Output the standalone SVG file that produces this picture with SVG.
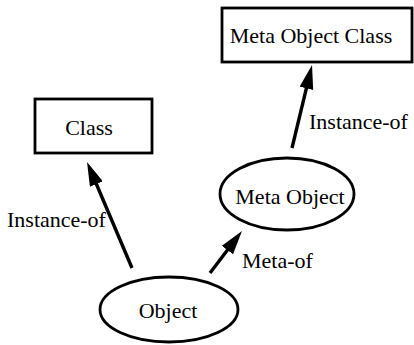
<svg xmlns="http://www.w3.org/2000/svg" width="414" height="345" viewBox="0 0 414 345">
<style>
.box{fill:#fff;stroke:#000;stroke-width:2.8}
.lbl{font-family:'Liberation Serif','Times New Roman',serif;font-size:22px;fill:#000}
.c{text-anchor:middle}
.edge{fill:none;stroke:#000;stroke-width:3.4}
</style>
<defs>
<marker id="ah" viewBox="0 0 24 14" refX="12" refY="7" markerWidth="24" markerHeight="14" orient="auto" markerUnits="userSpaceOnUse">
<path d="M0,0 L24,7 L0,14 Z" fill="#000"/>
</marker>
</defs>
<rect width="414" height="345" fill="#fff"/>
<g id="class">
<rect class="box" x="35" y="99" width="117" height="54"/>
<text class="lbl c" x="89" y="135">Class</text>
</g>
<g id="meta-object-class">
<rect class="box" x="222" y="8" width="190" height="54"/>
<text class="lbl c" x="311" y="43">Meta Object Class</text>
</g>
<g id="meta-object">
<ellipse class="box" cx="287" cy="194" rx="67" ry="36"/>
<text class="lbl c" x="290" y="204">Meta Object</text>
</g>
<g id="object">
<ellipse class="box" cx="169" cy="309.5" rx="69" ry="32.5"/>
<text class="lbl c" x="168" y="318">Object</text>
</g>
<g id="connectors">
<path class="edge" d="M132,268 L91.7,173" marker-end="url(#ah)"/>
<text class="lbl" x="7" y="227">Instance-of</text>
<path class="edge" d="M292,148 L309.2,76.7" marker-end="url(#ah)"/>
<text class="lbl" x="309" y="129">Instance-of</text>
<path class="edge" d="M210,273 L234.7,240.5" marker-end="url(#ah)"/>
<text class="lbl" x="242" y="268">Meta-of</text>
</g>
</svg>
